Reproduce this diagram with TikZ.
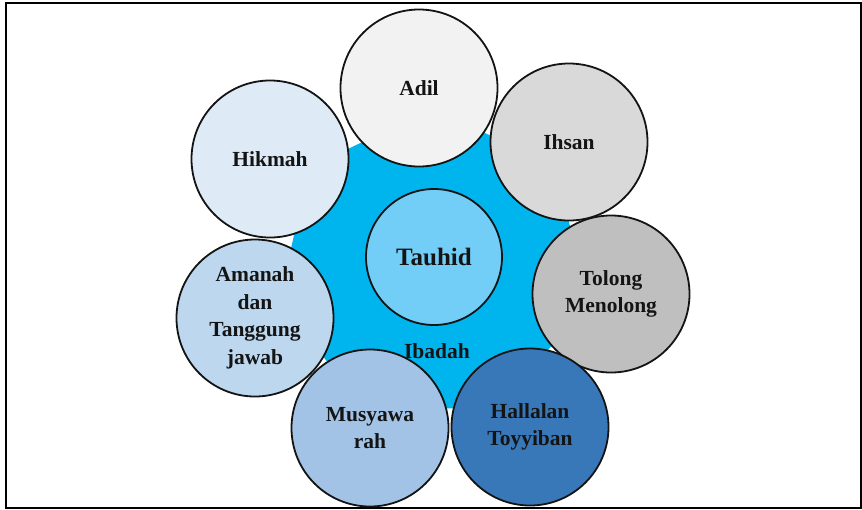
\documentclass[tikz,border=0pt]{standalone}
\usepackage{fontspec}
\setmainfont{Liberation Serif}
\usetikzlibrary{shapes.geometric}
\definecolor{hepta}{HTML}{00B4EE}
\definecolor{ctauhid}{HTML}{72CDF7}
\definecolor{cadil}{HTML}{F2F2F2}
\definecolor{cihsan}{HTML}{D9D9D9}
\definecolor{ctolong}{HTML}{BFBFBF}
\definecolor{challal}{HTML}{3878B9}
\definecolor{cmusya}{HTML}{A2C3E6}
\definecolor{camanah}{HTML}{BDD7EE}
\definecolor{chikmah}{HTML}{DEEBF7}
\definecolor{ink}{HTML}{141414}
\tikzset{
  valuecircle/.style={circle, draw=ink, line width=1.8pt, minimum size=157pt, inner sep=0pt,
    align=center, font=\fontsize{21.5}{27.5}\selectfont\bfseries, text=ink},
  centercircle/.style={circle, draw=ink, line width=1.8pt, minimum size=136pt, inner sep=0pt,
    font=\fontsize{25}{29}\selectfont\bfseries, text=ink},
  bigshape/.style={regular polygon, regular polygon sides=7, minimum size=316pt, inner sep=0pt,
    outer sep=0pt, fill=hepta, draw=none},
  plainlabel/.style={font=\fontsize{21.5}{27.5}\selectfont\bfseries, text=ink, inner sep=0pt}
}
\begin{document}
\begin{tikzpicture}[x=1pt,y=-1pt]
\useasboundingbox (0,0) rectangle (862,509);
\fill[white] (0,0) rectangle (862,509);
\node[draw=black, line width=2.6pt, minimum width=855pt, minimum height=505pt, inner sep=0pt] (frame) at (433.5,255.5) {};
\node[bigshape] (hept) at (433,266) {};
\node[centercircle, fill=ctauhid] (tauhid) at (434,257) {Tauhid};
\node[valuecircle, fill=cadil] (adil) at (419,88) {Adil};
\node[valuecircle, fill=cihsan] (ihsan) at (569,142) {Ihsan};
\node[valuecircle, fill=ctolong] (tolong) at (611,294) {Tolong\\Menolong};
\node[valuecircle, fill=challal] (hallal) at (530,427) {Hallalan\\Toyyiban};
\node[valuecircle, fill=cmusya] (musya) at (370,428) {Musyawa\\rah};
\node[valuecircle, fill=camanah] (amanah) at (255,318) {Amanah\\dan\\Tanggung\\jawab};
\node[valuecircle, fill=chikmah] (hikmah) at (270,159) {Hikmah};
\node[plainlabel] (ibadah) at (437,351) {Ibadah};
\end{tikzpicture}
\end{document}
